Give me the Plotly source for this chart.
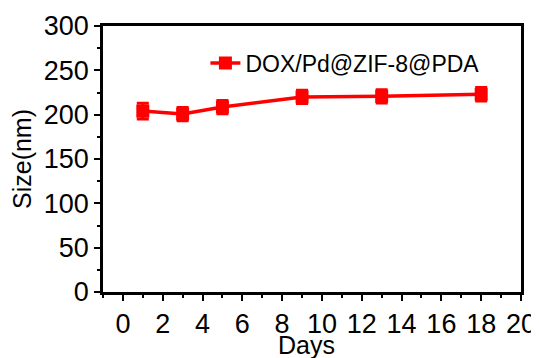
import plotly.graph_objects as go

days = [1, 3, 5, 9, 13, 18]
size_nm = [204, 200.7, 208.6, 220, 220.7, 223]
size_err = [9, 7.5, 7.5, 7.5, 7.5, 7.5]
series_name = "DOX/Pd@ZIF-8@PDA"
x_ticks = [0, 2, 4, 6, 8, 10, 12, 14, 16, 18, 20]
y_ticks = [0, 50, 100, 150, 200, 250, 300]

FONT = "Liberation Sans, Arial, sans-serif"

fig = go.Figure()
fig.add_trace(go.Scatter(
    x=days, y=size_nm, name=series_name, mode="lines+markers",
    line=dict(color="#ff0000", width=3.5),
    marker=dict(symbol="square", size=13, color="#ff0000"),
    error_y=dict(type="data", array=size_err, color="#ff0000", thickness=3, width=6),
))

axis_common = dict(
    showline=True, linecolor="black", linewidth=2.5, mirror=True,
    ticks="outside", ticklen=6, tickwidth=2, tickcolor="black",
    showgrid=False, zeroline=False, automargin=False,
    tickfont=dict(family=FONT, size=27, color="black"),
)

fig.update_xaxes(
    range=[-1, 20], tickvals=x_ticks,
    minor=dict(dtick=1, tick0=-1, ticks="outside", ticklen=3, tickwidth=2, tickcolor="black"),
    **axis_common,
)
fig.update_yaxes(
    range=[0, 300], tickvals=y_ticks,
    minor=dict(dtick=25, tick0=0, ticks="outside", ticklen=3, tickwidth=2, tickcolor="black"),
    title=dict(text="Size(nm)", font=dict(family=FONT, size=25, color="black"), standoff=6),
    **axis_common,
)

fig.add_annotation(
    text="Days", xref="paper", yref="paper", x=0.488, y=0,
    xanchor="center", yanchor="top", yshift=-37, showarrow=False,
    font=dict(family=FONT, size=25, color="black"),
)

# page body has an 8px margin, so figure is offset by (8, 8) in the window
fig.update_layout(
    width=531, height=350,
    margin=dict(l=95, r=18, t=18, b=66),
    plot_bgcolor="white", paper_bgcolor="white",
    showlegend=True,
    legend=dict(x=0.245, y=0.861, xanchor="left", yanchor="middle",
                bgcolor="rgba(0,0,0,0)",
                font=dict(family=FONT, size=23, color="black")),
)

fig.write_html("out.html")
